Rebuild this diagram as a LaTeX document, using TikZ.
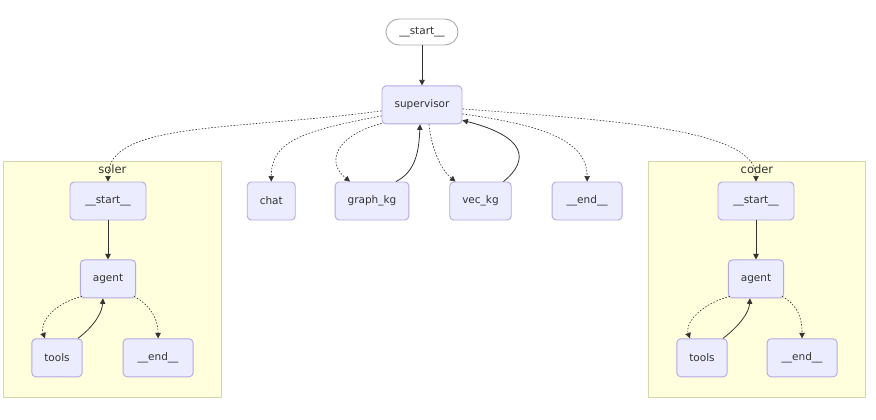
\documentclass[tikz,border=0pt]{standalone}
\usepackage{fontspec}
\setmainfont{DejaVu Sans}
\usetikzlibrary{arrows.meta,positioning,fit,backgrounds}
\definecolor{nodefill}{HTML}{ECECFF}
\definecolor{nodeline}{HTML}{B3A8E2}
\definecolor{clufill}{HTML}{FFFFDE}
\definecolor{cluline}{HTML}{D6D6A8}
\definecolor{pilline}{HTML}{A9A9B2}
\definecolor{ink}{HTML}{333333}
\tikzset{
  box/.style={rectangle,rounded corners=4pt,draw=nodeline,fill=nodefill,
              line width=0.9pt,minimum height=38pt,inner xsep=12.5pt,
              font=\fontsize{10.5}{12}\selectfont,text=ink},
  pill/.style={rectangle,rounded corners=13pt,draw=pilline,fill=white,
               line width=0.9pt,minimum height=26pt,minimum width=72pt,
               font=\fontsize{10.5}{12}\selectfont,text=ink},
  clu/.style={rectangle,draw=cluline,fill=clufill,line width=0.9pt,
              inner xsep=28pt,inner ysep=20pt},
  arr/.style={-{Triangle[length=5.5pt,width=5.5pt]},line width=0.8pt,color=ink},
  darr/.style={arr,line width=0.6pt,dash pattern=on 1.6pt off 1.6pt},
  clbl/.style={font=\fontsize{11.5}{13}\selectfont,text=ink,inner sep=1pt},
}
\begin{document}
\begin{tikzpicture}[x=1pt,y=1pt]
  \useasboundingbox (0,0) rectangle (876,-420);

  %% ── main graph ───────────────────────────────────────────────────────────
  \node[pill] (start) at (422,-32) {\_\_start\_\_};
  \node[box,below=40pt of start] (sup) {supervisor};

  \node[box] (graphkg) at (372,-201) {graph\_kg};
  \node[box,left=39pt of graphkg]  (chat)    {chat};
  \node[box,right=40pt of graphkg] (veckg)   {vec\_kg};
  \node[box,right=40pt of veckg,minimum width=70pt] (endnode) {\_\_end\_\_};

  %% ── soler ────────────────────────────────────────────────────────────────
  \node[box,minimum width=76pt] (sstart) at (108,-201) {\_\_start\_\_};
  \node[box,below=39pt of sstart] (sagent) {agent};
  \node[box,below=40pt of sagent,xshift=-51pt] (stools) {tools};
  \node[box,right=40pt of stools,minimum width=70pt] (send) {\_\_end\_\_};

  %% ── coder ────────────────────────────────────────────────────────────────
  \node[box,minimum width=76pt] (cstart) at (756,-201) {\_\_start\_\_};
  \node[box,below=39pt of cstart] (cagent) {agent};
  \node[box,below=40pt of cagent,xshift=-54pt] (ctools) {tools};
  \node[box,right=39pt of ctools,minimum width=70pt] (cend) {\_\_end\_\_};

  %% ── groups ───────────────────────────────────────────────────────────────
  \begin{scope}[on background layer]
    \node[clu,fit=(sstart)(stools)(send),
          label={[clbl,anchor=north,yshift=-2pt]north:soler}] (soler) {};
    \node[clu,fit=(cstart)(ctools)(cend),
          label={[clbl,anchor=north,yshift=-2pt]north:coder}] (coder) {};
  \end{scope}

  %% ── supervisor edges ─────────────────────────────────────────────────────
  \draw[arr] (start) -- (sup);
  \draw[darr] ([yshift=-6pt]sup.west) .. controls +(-150,-20) and +(0,60) .. (sstart.north);
  \draw[darr] ([yshift=-11pt]sup.west) .. controls +(-80,-15) and +(0,40) .. (chat.north);
  \draw[darr] ([yshift=1pt]sup.south west) .. controls +(-45,-12) and +(-25,20)
    .. ([xshift=-22pt]graphkg.north);
  \draw[arr] ([xshift=24pt]graphkg.north) .. controls +(20,10) and +(-1,-26)
    .. ([xshift=-2pt]sup.south);
  \draw[darr] ([xshift=7pt]sup.south) .. controls +(2,-22) and +(-15,12)
    .. ([xshift=-25pt]veckg.north);
  \draw[arr] ([xshift=23pt]veckg.north) .. controls +(27,22) and +(63,-16)
    .. ([yshift=4pt]sup.south east);
  \draw[darr] ([yshift=-9pt]sup.east) .. controls +(78,-11) and +(0,42) .. (endnode.north);
  \draw[darr] ([yshift=-4pt]sup.east) .. controls +(158,-12) and +(0,52) .. (cstart.north);

  %% ── soler edges ──────────────────────────────────────────────────────────
  \draw[arr] (sstart) -- (sagent);
  \draw[darr] ([shift={(2pt,2pt)}]sagent.south west) .. controls +(-33,-9) and +(-5,13)
    .. ([xshift=-12pt]stools.north);
  \draw[arr] ([xshift=21pt]stools.north) .. controls +(17,13) and +(-1,-14)
    .. ([xshift=-5pt]sagent.south);
  \draw[darr] ([shift={(-2pt,2pt)}]sagent.south east) .. controls +(16,-9) and +(0,20)
    .. (send.north);

  %% ── coder edges ──────────────────────────────────────────────────────────
  \draw[arr] (cstart) -- (cagent);
  \draw[darr] ([shift={(2pt,2pt)}]cagent.south west) .. controls +(-33,-9) and +(-5,13)
    .. ([xshift=-12pt]ctools.north);
  \draw[arr] ([xshift=21pt]ctools.north) .. controls +(17,13) and +(-1,-14)
    .. ([xshift=-6pt]cagent.south);
  \draw[darr] ([shift={(-2pt,2pt)}]cagent.south east) .. controls +(16,-9) and +(0,20)
    .. (cend.north);

\end{tikzpicture}
\end{document}
